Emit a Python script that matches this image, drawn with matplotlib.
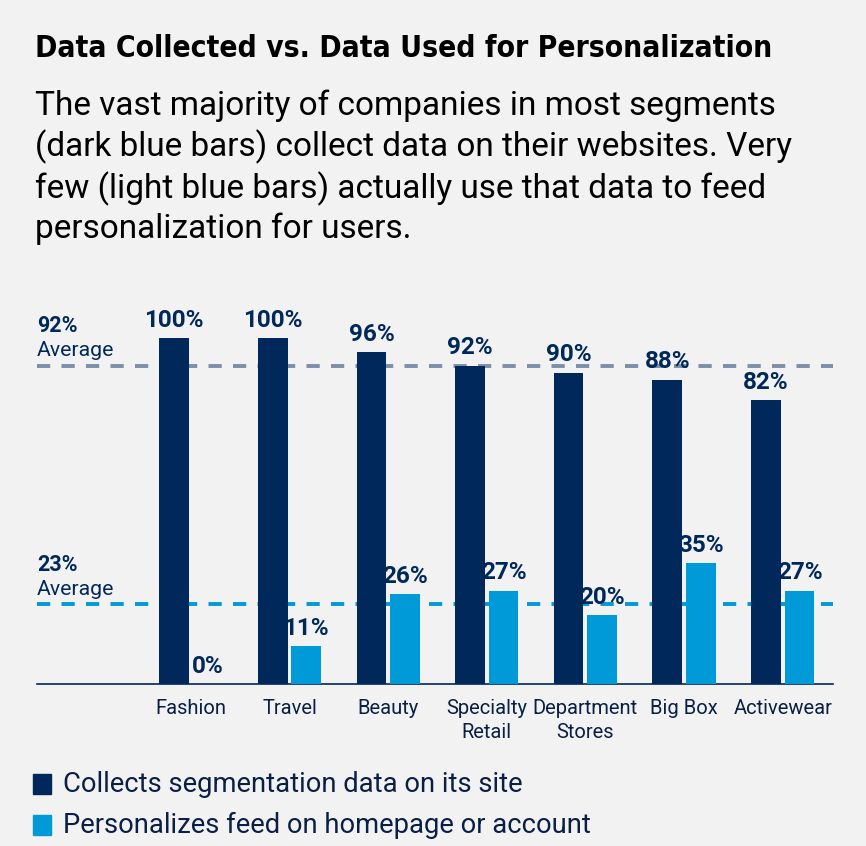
import matplotlib
matplotlib.use("Agg")
import matplotlib.pyplot as plt
import numpy as np

categories = ["Fashion", "Travel", "Beauty", "Specialty\nRetail", "Department\nStores", "Big Box", "Activewear"]
collects = [100, 100, 96, 92, 90, 88, 82]
personalizes = [0, 11, 26, 27, 20, 35, 27]
avg_collects = 92
avg_personalizes = 23
legend_labels = ["Collects segmentation data on its site", "Personalizes feed on homepage or account"]

NAVY = "#00285a"
LIGHT = "#009ad8"
GREY = "#7c8ea8"
BG = "#f2f2f2"
TEXT = "#0a1f44"

plt.rcParams["font.family"] = ["Roboto", "DejaVu Sans"]

fig = plt.figure(figsize=(8.66, 8.46), dpi=100, facecolor=BG)
ax = fig.add_axes([37 / 866, 162 / 846, 796 / 866, 384 / 846])
ax.set_facecolor(BG)

x = np.arange(len(categories))
w = 0.30
off = 0.17
ax.bar(x - off, collects, w, color=NAVY, zorder=3)
ax.bar(x + off, personalizes, w, color=LIGHT, zorder=3)

for xi, v in zip(x, collects):
    ax.annotate(f"{v}%", (xi - off, v), xytext=(0, 4.5), textcoords="offset points",
                ha="center", va="bottom", fontsize=17.5, fontweight="bold", color=NAVY)
for xi, v in zip(x, personalizes):
    ax.annotate(f"{v}%", (xi + off, v), xytext=(0, 4.5), textcoords="offset points",
                ha="center", va="bottom", fontsize=17.5, fontweight="bold", color=NAVY)

ax.axhline(avg_collects, color=GREY, lw=2.8, dashes=(3.4, 2.9), zorder=2)
ax.axhline(avg_personalizes, color=LIGHT, lw=2.8, dashes=(3.4, 2.9), zorder=2)

for avg in [avg_collects, avg_personalizes]:
    ax.annotate(f"{avg}%", (-1.56, avg), xytext=(0, 24), textcoords="offset points",
                ha="left", va="baseline", fontsize=15.5, fontweight="bold", color=NAVY)
    ax.annotate("Average", (-1.56, avg), xytext=(0, 7), textcoords="offset points",
                ha="left", va="baseline", fontsize=15.3, color=NAVY)

ax.set_xlim(-1.56, 6.51)
ax.set_ylim(0, 111)
ax.set_xticks(x)
ax.set_xticklabels(categories, fontsize=14.5, color=TEXT, linespacing=1.3)
ax.tick_params(axis="x", length=0, pad=11)
ax.set_yticks([])
for s in ["top", "right", "left"]:
    ax.spines[s].set_visible(False)
ax.spines["bottom"].set_color(NAVY)
ax.spines["bottom"].set_linewidth(1.2)

fig.text(35 / 866, 1 - 57 / 846, "Data Collected vs. Data Used for Personalization",
         fontsize=21.5, fontweight="bold", color="black", va="baseline", ha="left",
         family=["DejaVu Sans"], stretch="condensed")
subtitle = ("The vast majority of companies in most segments\n"
            "(dark blue bars) collect data on their websites. Very\n"
            "few (light blue bars) actually use that data to feed\n"
            "personalization for users.")
fig.text(35 / 866, 1 - 90 / 846, subtitle, fontsize=24, color="black", va="top", ha="left",
         linespacing=1.26)

for i, (lab, col) in enumerate(zip(legend_labels, [NAVY, LIGHT])):
    yc = 1 - (784 + 41 * i) / 846
    fig.patches.append(plt.Rectangle((33 / 866, yc - 10 / 846), 18 / 866, 20 / 846,
                                     transform=fig.transFigure, color=col))
    fig.text(63 / 866, yc, lab, fontsize=19.7, color=TEXT, va="center", ha="left")

fig.savefig("out.png", dpi=100, facecolor=BG)
